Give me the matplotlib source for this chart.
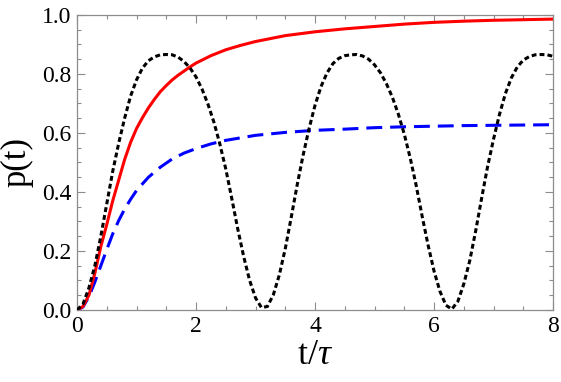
import matplotlib
matplotlib.use("Agg")
import matplotlib.pyplot as plt
from matplotlib.ticker import MultipleLocator

plt.rcParams['font.family'] = ['Liberation Serif', 'DejaVu Serif']
plt.rcParams['mathtext.fontset'] = 'custom'
plt.rcParams['mathtext.rm'] = 'Liberation Serif'
plt.rcParams['mathtext.it'] = 'Liberation Serif:italic'

# ---- data ----
t_black = [0.0, 0.1, 0.2, 0.3, 0.4, 0.5, 0.6, 0.7, 0.8, 0.9,
           1.0, 1.1, 1.2, 1.3, 1.4, 1.5, 1.6, 1.7, 1.8, 1.9,
           2.0, 2.1, 2.2, 2.3, 2.4, 2.5, 2.6, 2.7, 2.8, 2.9,
           3.0, 3.1, 3.2, 3.3, 3.4, 3.5, 3.6, 3.7, 3.8, 3.9,
           4.0, 4.1, 4.2, 4.3, 4.4, 4.5, 4.6, 4.7, 4.8, 4.9,
           5.0, 5.1, 5.2, 5.3, 5.4, 5.5, 5.6, 5.7, 5.8, 5.9,
           6.0, 6.1, 6.2, 6.3, 6.4, 6.5, 6.6, 6.7, 6.8, 6.9,
           7.0, 7.1, 7.2, 7.3, 7.4, 7.5, 7.6, 7.7, 7.8, 7.9, 8.0]
p_black = [0.000, 0.020, 0.075, 0.150, 0.250, 0.360, 0.470, 0.565, 0.650, 0.725,
           0.780, 0.820, 0.845, 0.858, 0.865, 0.866, 0.865, 0.857, 0.842, 0.820,
           0.790, 0.749, 0.698, 0.637, 0.563, 0.478, 0.379, 0.276, 0.182, 0.101,
           0.041, 0.008, 0.012, 0.052, 0.119, 0.208, 0.314, 0.424, 0.525, 0.615,
           0.694, 0.757, 0.803, 0.835, 0.853, 0.862, 0.865, 0.866, 0.861, 0.850,
           0.831, 0.804, 0.767, 0.721, 0.664, 0.596, 0.515, 0.422, 0.318, 0.220,
           0.132, 0.063, 0.016, 0.003, 0.029, 0.088, 0.167, 0.268, 0.379, 0.486,
           0.579, 0.663, 0.734, 0.787, 0.824, 0.847, 0.859, 0.865, 0.866, 0.865, 0.860]

t_red = [0.0, 0.1, 0.2, 0.3, 0.4, 0.5, 0.6, 0.7, 0.8, 0.9, 1.0, 1.1, 1.2, 1.3, 1.4,
         1.5, 1.6, 1.7, 1.8, 1.9, 2.0, 2.25, 2.5, 2.75, 3.0, 3.5, 4.0, 4.5, 5.0,
         5.5, 6.0, 6.5, 7.0, 7.5, 8.0]
p_red = [0.0, 0.012, 0.050, 0.125, 0.215, 0.290, 0.370, 0.440, 0.510, 0.568, 0.615,
         0.652, 0.685, 0.714, 0.740, 0.761, 0.780, 0.796, 0.810, 0.824, 0.837,
         0.862, 0.882, 0.897, 0.910, 0.930, 0.943, 0.953, 0.961, 0.969, 0.975,
         0.979, 0.982, 0.984, 0.986]

t_blue = [0.0, 0.1, 0.2, 0.3, 0.4, 0.5, 0.6, 0.7, 0.8, 0.9, 1.0, 1.2, 1.4, 1.6, 1.8,
          2.0, 2.25, 2.5, 3.0, 3.5, 4.0, 4.5, 5.0, 5.5, 6.0, 6.5, 7.0, 7.5, 8.0]
p_blue = [0.0, 0.010, 0.045, 0.095, 0.150, 0.205, 0.258, 0.303, 0.342, 0.375, 0.405,
          0.450, 0.484, 0.512, 0.532, 0.547, 0.563, 0.575, 0.592, 0.602, 0.609,
          0.613, 0.618, 0.621, 0.623, 0.625, 0.626, 0.627, 0.628]

x_ticks = [0, 2, 4, 6, 8]
y_ticks = [0.0, 0.2, 0.4, 0.6, 0.8, 1.0]
y_ticklabels = ['0.0', '0.2', '0.4', '0.6', '0.8', '1.0']

SERIF = ['Liberation Serif', 'DejaVu Serif']

fig = plt.figure(figsize=(5.61, 3.82), dpi=100)
ax = fig.add_axes([0.1373, 0.1885, 0.8485, 0.7723])

ax.plot(t_blue, p_blue, color='#0000ff', lw=2.2, linestyle=(0, (5.2, 2.6)),
        dash_capstyle='butt', zorder=3)
ax.plot(t_red, p_red, color='#ff0000', lw=2.2, zorder=4)
ax.plot(t_black, p_black, color='black', lw=2.2, linestyle=(0, (1.6, 1.0)),
        dash_capstyle='butt', zorder=5)

ax.set_xlim(0, 8)
ax.set_ylim(0, 1.0)
ax.set_xticks(x_ticks)
ax.set_xticklabels([str(v) for v in x_ticks], fontfamily=SERIF)
ax.set_yticks(y_ticks)
ax.set_yticklabels(y_ticklabels, fontfamily=SERIF)
ax.xaxis.set_minor_locator(MultipleLocator(0.5))
ax.yaxis.set_minor_locator(MultipleLocator(0.05))

frame_col = '#8c8c8c'
for sp in ax.spines.values():
    sp.set_color(frame_col)
    sp.set_linewidth(0.9)
ax.tick_params(which='both', direction='in', top=True, right=True,
               color=frame_col, width=0.8, labelsize=17, labelcolor='black')
ax.tick_params(which='major', length=6, pad=4)
ax.tick_params(which='minor', length=3)

ax.set_xlabel(r'$\mathrm{t}/\tau$', fontsize=26, labelpad=2)
ax.set_ylabel('p(t)', fontsize=25, labelpad=6, fontfamily=SERIF)

fig.savefig('out.png', dpi=100)
